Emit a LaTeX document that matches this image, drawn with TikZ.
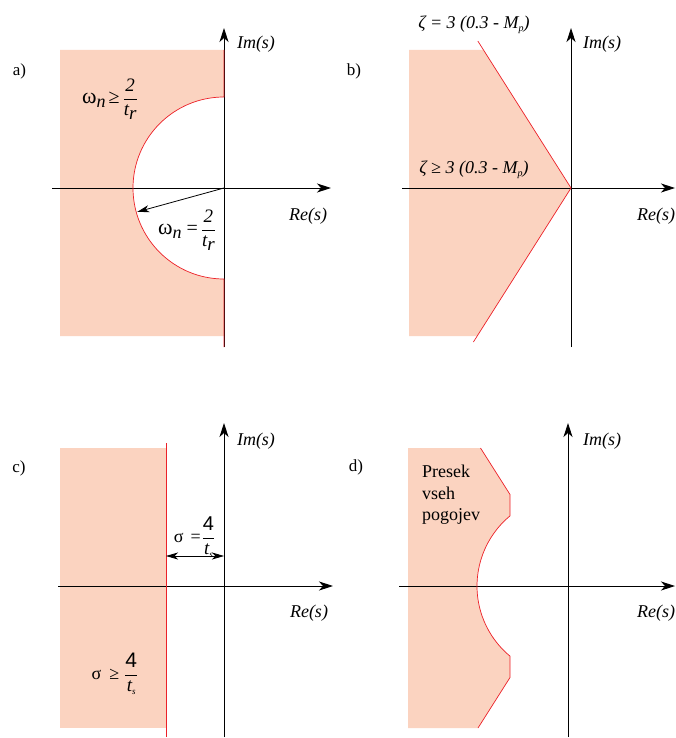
\documentclass[tikz,border=0pt]{standalone}
\usepackage{fontspec}
\setmainfont{Liberation Serif}
\newfontfamily\sansf{Liberation Sans}
\usetikzlibrary{arrows.meta,calc}
\definecolor{regionfill}{RGB}{251,211,192}
\definecolor{boundred}{RGB}{236,32,40}
\newcommand{\fr}[2]{$\displaystyle{\hbox{#1}\over\hbox{#2}}$}
\newcommand{\lowsub}[2]{\raisebox{-#1}{#2}}
\newcommand{\fs}[1]{\fontsize{#1}{#1}\selectfont}
\begin{document}
\begin{tikzpicture}[x=1pt,y=-1pt,
  axis/.style={line width=0.9pt,-{Stealth[length=14pt,width=9pt,inset=4pt]}},
  bound/.style={draw=boundred,line width=0.7pt},
  region/.style={fill=regionfill},
  smallarrow/.style={line width=0.8pt,-{Stealth[length=12pt,width=7pt,inset=3.5pt]}},
  dblarrow/.style={line width=0.8pt,{Stealth[length=12pt,width=7pt,inset=3.5pt]}-{Stealth[length=12pt,width=7pt,inset=3.5pt]}},
  lbl/.style={inner sep=0pt,font=\fontsize{18}{21.5}\selectfont},
  axlbl/.style={inner sep=0pt,font=\fontsize{18}{21.5}\selectfont\itshape},
  panellbl/.style={inner sep=0pt,font=\fontsize{17}{20}\selectfont}]
\useasboundingbox (0,0) rectangle (675,738);

% ---------------- panel a ----------------
\coordinate (Oa) at (224,188);
\coordinate (ImaB) at (224,347);
\coordinate (ImaT) at (224,28);
\coordinate (ReaL) at (52,188);
\coordinate (ReaR) at (331,188);
\coordinate (Pa) at ($(Oa)+(195.4:90pt)$);
\path[region] (60,50) -- (224,50) -- (224,97) arc[start angle=90,end angle=270,radius=91pt] -- (224,336) -- (60,336) -- cycle;
\draw[axis] (ImaB) -- (ImaT);
\draw[axis] (ReaL) -- (ReaR);
\draw[bound] (224,50) -- (224,97) arc[start angle=90,end angle=270,radius=91pt] -- (224,347);
\draw[smallarrow] (Oa) -- (Pa);
\node[panellbl] (pa) at (19.5,71) {a)};
\node[axlbl] (ima) at (256,44) {Im(s)};
\node[axlbl] (rea) at (308,216) {Re(s)};
\node[lbl] (la1) at (110,99) {{\fs{22}ω}\lowsub{4pt}{\itshape n}\hspace{3pt}{\fs{20}≥}\hspace{3pt}\fr{\fs{19}\itshape 2}{\fs{19}\itshape t\lowsub{4pt}{r}}};
\node[lbl] (la2) at (187,230) {{\fs{22}ω}\lowsub{4pt}{\itshape n}\hspace{5pt}{\fs{20}=}\hspace{3pt}\fr{\fs{19}\itshape 2}{\fs{19}\itshape t\lowsub{4pt}{r}}};

% ---------------- panel b ----------------
\coordinate (Ob) at (571,188);
\coordinate (ImbB) at (571,347);
\coordinate (ImbT) at (571,28);
\coordinate (RebL) at (402,188);
\coordinate (RebR) at (675,188);
\coordinate (Zt) at (477.8,41);
\coordinate (Zb) at (473.4,342);
\path[region] (409,50) -- (483.5,50) -- (Ob) -- (477.2,336) -- (409,336) -- cycle;
\draw[axis] (ImbB) -- (ImbT);
\draw[axis] (RebL) -- (RebR);
\draw[bound] (Zt) -- (Ob) -- (Zb);
\node[panellbl] (pb) at (354,71) {b)};
\node[axlbl] (imb) at (602,44) {Im(s)};
\node[axlbl] (reb) at (656,216) {Re(s)};
\node[lbl] (lb1) at (474,25) {\itshape ζ = 3 (0.3 - M\lowsub{3pt}{\fs{10}p})};
\node[lbl] (lb2) at (474,170) {\itshape ζ ≥ 3 (0.3 - M\lowsub{3pt}{\fs{10}p})};

% ---------------- panel c ----------------
\coordinate (Oc) at (224,586);
\coordinate (ImcB) at (224,737);
\coordinate (ImcT) at (224,423);
\coordinate (RecL) at (58,586);
\coordinate (RecR) at (333,586);
\coordinate (Sa) at (166,556);
\coordinate (Sb) at (224,556);
\path[region] (60,448) rectangle (166,728);
\draw[axis] (ImcB) -- (ImcT);
\draw[axis] (RecL) -- (RecR);
\draw[bound] (166,443) -- (166,737);
\draw[dblarrow] (Sa) -- (Sb);
\node[panellbl] (pc) at (19,468) {c)};
\node[axlbl] (imc) at (256,441) {Im(s)};
\node[axlbl] (rec) at (309,613) {Re(s)};
\node[lbl] (lc1) at (194.5,537) {σ\hspace{7pt}=\hspace{1pt}\fr{\sansf\fs{20}4}{\fs{19}\itshape t\lowsub{3pt}{\fs{9}s}}};
\node[lbl] (lc2) at (115,674) {σ\hspace{8pt}≥\hspace{5pt}\fr{\sansf\fs{21}4}{\fs{19}\itshape t\lowsub{3pt}{\fs{9}s}}};

% ---------------- panel d ----------------
\coordinate (Od) at (568,586);
\coordinate (ImdB) at (568,737);
\coordinate (ImdT) at (568,423);
\coordinate (RedL) at (399,586);
\coordinate (RedR) at (675,586);
\path[region] (408,448) -- (480.5,448) -- (510,494.5) -- (510,515.9) arc[start angle=129.6,end angle=230.4,radius=91pt] -- (510,677.5) -- (478,728) -- (408,728) -- cycle;
\draw[axis] (ImdB) -- (ImdT);
\draw[axis] (RedL) -- (RedR);
\draw[bound] (480.5,448) -- (510,494.5) -- (510,515.9) arc[start angle=129.6,end angle=230.4,radius=91pt] -- (510,677.5) -- (478,728);
\node[panellbl] (pd) at (356,467) {d)};
\node[axlbl] (imd) at (602,441) {Im(s)};
\node[axlbl] (red) at (656,613) {Re(s)};
\node[lbl,anchor=north west,align=left] (ld) at (422,465) {Presek\\vseh\\pogojev};
\end{tikzpicture}
\end{document}
